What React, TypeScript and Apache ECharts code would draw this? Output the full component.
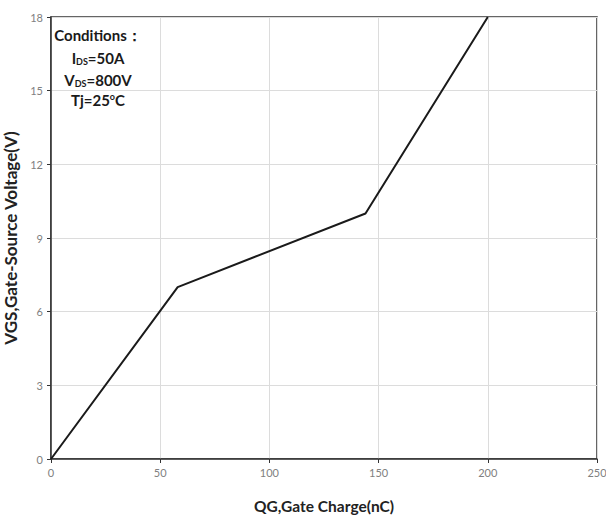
import React, { useEffect, useRef } from "react";
import * as echarts from "echarts";

const qg = [0, 58, 144, 200];
const vgs = [0, 7, 10, 18];
const xTicks = [0, 50, 100, 150, 200, 250];
const yTicks = [0, 3, 6, 9, 12, 15, 18];

const FONT = "Lato, 'Open Sans', 'Liberation Sans', Arial, sans-serif";
const INK = "#1a1a1a";

export default function App() {
  const ref = useRef<HTMLDivElement>(null);
  useEffect(() => {
    if (!ref.current) return;
    const chart = echarts.init(ref.current, null, { renderer: "svg" });
    const axisCommon = {
      axisLine: { show: true, lineStyle: { color: "#333", width: 1.5 } },
      axisTick: { show: true, inside: false, length: 4, lineStyle: { color: "#333" } },
      axisLabel: { color: "#808080", fontSize: 11, fontFamily: FONT },
      splitLine: { show: true, lineStyle: { color: "#dcdcdc", width: 1 } },
    };
    const sub = { fontSize: 9, fontWeight: "bold", fontFamily: FONT, fill: INK, padding: [6, 0, 0, 0] };
    const sup = { fontSize: 9, fontWeight: "bold", fontFamily: FONT, fill: INK, padding: [0, 0, 8, 0] };
    const condLine = (text: string, y: number) => ({
      type: "text",
      x: 98,
      y,
      style: {
        text,
        fill: INK,
        fontSize: 15,
        fontWeight: "bold",
        fontFamily: FONT,
        align: "center",
        verticalAlign: "middle",
        rich: { sub, sup },
      },
    });
    chart.setOption({
      animation: false,
      grid: {
        left: 51, right: 9, top: 17, bottom: 59,
        outerBoundsMode: "none",
        containLabel: false,
        show: true, borderColor: "#333", borderWidth: 1.5, backgroundColor: "transparent",
      },
      xAxis: {
        type: "value", min: xTicks[0], max: xTicks[xTicks.length - 1], interval: 50,
        name: "QG,Gate Charge(nC)", nameLocation: "middle", nameGap: 39,
        nameTextStyle: { color: "#222", fontSize: 15.5, fontWeight: "bold", fontFamily: FONT },
        ...axisCommon,
        axisLabel: { ...axisCommon.axisLabel, margin: 8 },
      },
      yAxis: {
        type: "value", min: yTicks[0], max: yTicks[yTicks.length - 1], interval: 3,
        name: "VGS,Gate-Source Voltage(V)", nameLocation: "middle", nameGap: 19,
        nameTextStyle: { color: "#222", fontSize: 17, fontWeight: "bold", fontFamily: FONT },
        ...axisCommon,
        axisLabel: { ...axisCommon.axisLabel, margin: 8 },
      },
      series: [
        {
          type: "line",
          data: qg.map((x, i) => [x, vgs[i]]),
          symbol: "none",
          lineStyle: { color: INK, width: 2 },
        },
      ],
      graphic: [
        condLine("Conditions：", 35),
        condLine("I{sub|DS}=50A", 58),
        condLine("V{sub|DS}=800V", 80),
        condLine("Tj=25{sup|o}C", 100),
      ],
    });
    return () => chart.dispose();
  }, []);
  return (
    <div
      ref={ref}
      style={{ position: "absolute", left: 0, top: 0, width: 606, height: 518 }}
    />
  );
}
